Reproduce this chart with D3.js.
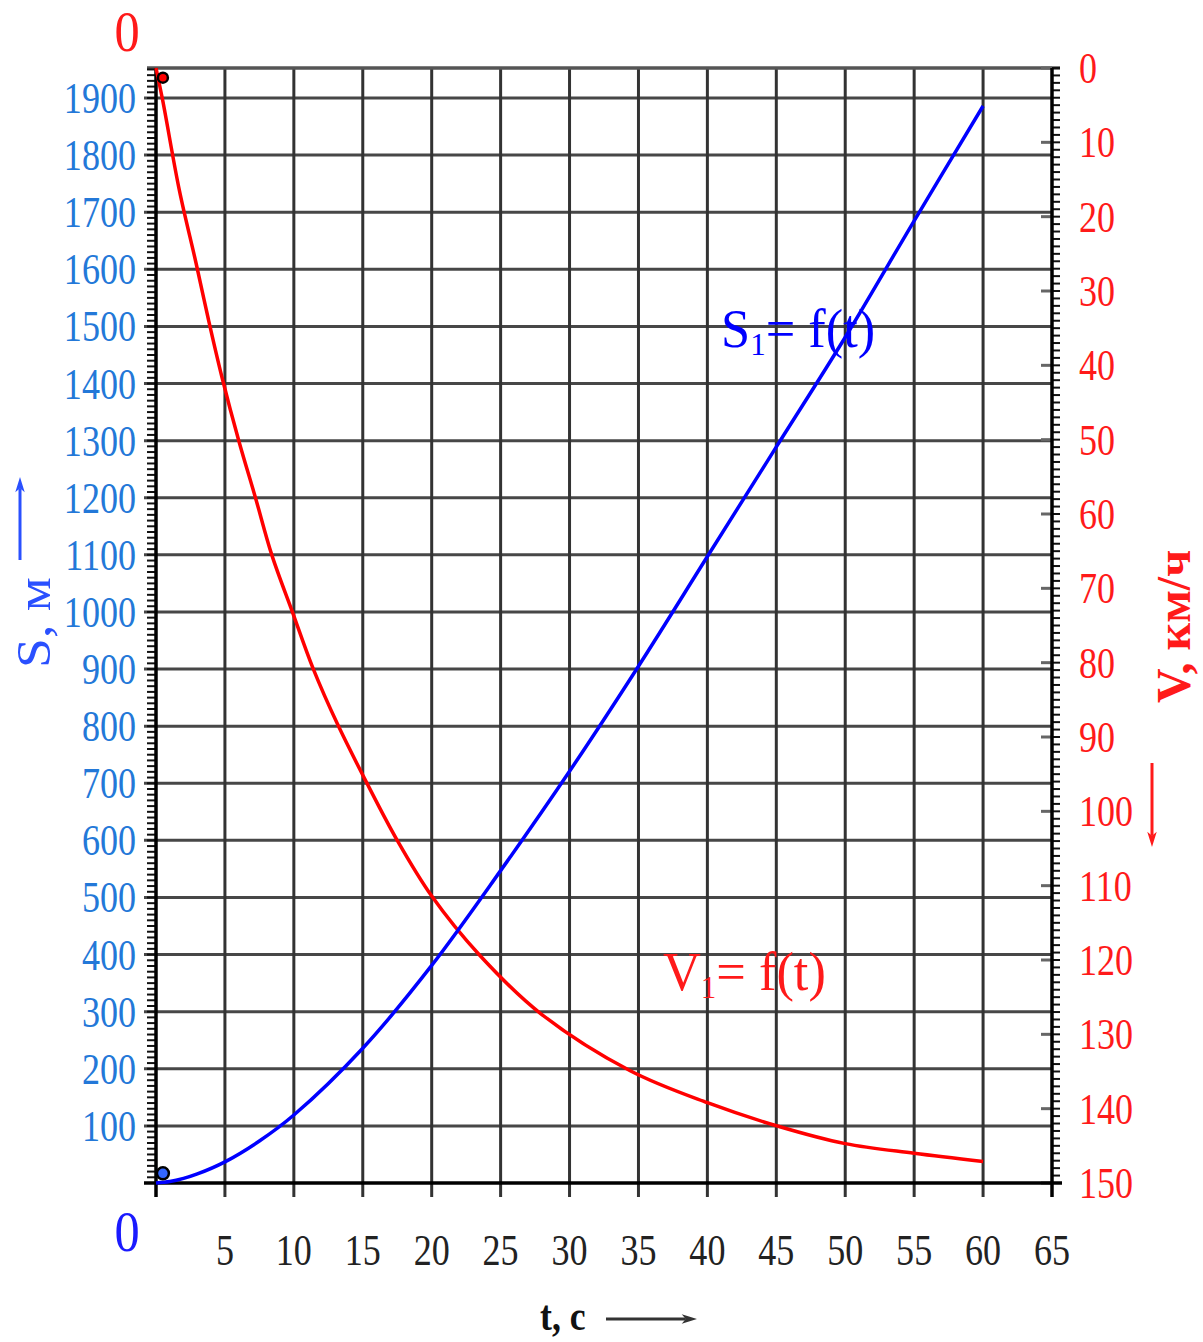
<!DOCTYPE html>
<html>
<head>
<meta charset="utf-8">
<script src="https://cdn.jsdelivr.net/npm/d3@7"></script>
<style>
  body { margin: 0; background: #fff; }
  text { font-family: "Liberation Serif", "DejaVu Serif", serif; }
</style>
</head>
<body>
<div id="chart"></div>
<script>
// tick labels
const tTicks = [5, 10, 15, 20, 25, 30, 35, 40, 45, 50, 55, 60, 65];
const sTicks = [100, 200, 300, 400, 500, 600, 700, 800, 900, 1000, 1100, 1200, 1300, 1400, 1500, 1600, 1700, 1800, 1900];
const vTicks = [0, 10, 20, 30, 40, 50, 60, 70, 80, 90, 100, 110, 120, 130, 140, 150];

// S1 = f(t), distance in m
const sTime = [0, 1, 2, 3, 5, 7.5, 10, 15, 20, 25, 30, 35, 40, 45, 50, 55, 60];
const sDist = [0, 2.5, 8, 15.8, 37, 73.5, 119, 236, 381, 547, 721, 905, 1097, 1289, 1481, 1685, 1886];

// V1 = f(t), speed in km/h
const vTime = [0, 0.5, 1.7, 2.9, 3.8, 4.8, 6.0, 7.2, 8.4, 9.9, 11.4, 13.2, 15.3, 17.5, 20, 23.5, 27.9, 34.4, 40, 45.2, 50, 55, 60];
const vSpeed = [0, 4.5, 16.5, 26.2, 33.8, 41.7, 50.1, 57.7, 65.5, 73.2, 80.8, 88.4, 96.2, 103.9, 111.4, 119.4, 127.2, 134.9, 139.2, 142.4, 144.7, 146, 147.1];

// start markers
const markV = { t: 0.5, v: 1.3 };
const markS = { t: 0.5, s: 17 };

const W = 1203, H = 1342;
const svg = d3.select('#chart').append('svg')
    .attr('width', W).attr('height', H);

const x = d3.scaleLinear().domain([0, 65]).range([156, 1052]);
const yS = d3.scaleLinear().domain([0, 1900]).range([1183, 98]);
const yV = d3.scaleLinear().domain([0, 150]).range([68, 1183]);

const blueLbl = '#2378d8';
const red = '#ff1a1a';

// text helper: squeezed serif like the scanned figure
function label(str, px, py, opt) {
    opt = opt || {};
    return svg.append('text')
        .attr('transform', `translate(${px},${py}) rotate(${opt.rot || 0}) scale(${opt.sx || 0.82},1)`)
        .attr('text-anchor', opt.anchor || 'start')
        .style('font-size', (opt.size || 44) + 'px')
        .style('font-weight', opt.bold ? 'bold' : 'normal')
        .attr('fill', opt.fill || '#222')
        .text(str);
}

// horizontal grid lines (per 100 m)
svg.append('g').selectAll('line').data(sTicks).enter().append('line')
    .attr('x1', 144).attr('x2', x(65))
    .attr('y1', d => yS(d)).attr('y2', d => yS(d))
    .attr('stroke', '#474747').attr('stroke-width', 3);

// vertical grid lines (per 5 s)
svg.append('g').selectAll('line').data(tTicks.filter(d => d < 65)).enter().append('line')
    .attr('x1', d => x(d)).attr('x2', d => x(d))
    .attr('y1', yV(0)).attr('y2', 1197)
    .attr('stroke', '#333').attr('stroke-width', 3);

// top border
svg.append('line').attr('x1', 147).attr('x2', 1060)
    .attr('y1', yV(0)).attr('y2', yV(0))
    .attr('stroke', '#555').attr('stroke-width', 3.5);

// left minor ticks every 10 m
svg.append('g').selectAll('line').data(d3.range(0, 1951, 10)).enter().append('line')
    .attr('x1', 147).attr('x2', x(0))
    .attr('y1', d => yS(d)).attr('y2', d => yS(d))
    .attr('stroke', '#111').attr('stroke-width', 2);

// right minor ticks every 1 km/h
svg.append('g').selectAll('line').data(d3.range(0, 151, 1)).enter().append('line')
    .attr('x1', x(65)).attr('x2', 1060)
    .attr('y1', d => yV(d)).attr('y2', d => yV(d))
    .attr('stroke', '#111').attr('stroke-width', 2);

// right major ticks inward
svg.append('g').selectAll('line').data(vTicks).enter().append('line')
    .attr('x1', 1041).attr('x2', x(65))
    .attr('y1', d => yV(d)).attr('y2', d => yV(d))
    .attr('stroke', '#666').attr('stroke-width', 3);

// axes lines
svg.append('line').attr('x1', x(0)).attr('x2', x(0)).attr('y1', yV(0)).attr('y2', 1197)
    .attr('stroke', '#000').attr('stroke-width', 3.5);
svg.append('line').attr('x1', x(65)).attr('x2', x(65)).attr('y1', yV(0)).attr('y2', 1197)
    .attr('stroke', '#000').attr('stroke-width', 3.5);
svg.append('line').attr('x1', 144).attr('x2', 1062).attr('y1', yS(0)).attr('y2', yS(0))
    .attr('stroke', '#000').attr('stroke-width', 3.5);

// curves
const lineS = d3.line().x((d, i) => x(sTime[i])).y(d => yS(d)).curve(d3.curveCatmullRom.alpha(0.5));
const lineV = d3.line().x((d, i) => x(vTime[i])).y(d => yV(d)).curve(d3.curveCatmullRom.alpha(0.5));

svg.append('path').attr('d', lineV(vSpeed))
    .attr('fill', 'none').attr('stroke', '#ff0000').attr('stroke-width', 3.5);
svg.append('path').attr('d', lineS(sDist))
    .attr('fill', 'none').attr('stroke', '#0000ff').attr('stroke-width', 3.5);

// markers
svg.append('circle').attr('cx', x(markV.t)).attr('cy', yV(markV.v)).attr('r', 5)
    .attr('fill', '#ff0000').attr('stroke', '#000').attr('stroke-width', 2.5);
svg.append('circle').attr('cx', x(markS.t)).attr('cy', yS(markS.s)).attr('r', 6)
    .attr('fill', '#3366ff').attr('stroke', '#000').attr('stroke-width', 2.5);

// tick labels
sTicks.forEach(d => label(d, 136, yS(d) + 15, { anchor: 'end', fill: blueLbl }));
vTicks.forEach(d => label(d, 1079, yV(d) + 15, { fill: red }));
tTicks.forEach(d => label(d, x(d), 1265, { anchor: 'middle', fill: '#222' }));

// zero labels
label('0', 127, 1251, { anchor: 'middle', fill: '#1a1aff', size: 56, sx: 0.9 });
label('0', 127, 51, { anchor: 'middle', fill: red, size: 56, sx: 0.9 });

// arrows with filled heads
function arrow(x1, y1, x2, y2, color, w) {
    const a = Math.atan2(y2 - y1, x2 - x1);
    const L = 16, s = 0.3;
    svg.append('line').attr('x1', x1).attr('y1', y1)
        .attr('x2', x2 - L * 0.7 * Math.cos(a)).attr('y2', y2 - L * 0.7 * Math.sin(a))
        .attr('stroke', color).attr('stroke-width', w);
    svg.append('path')
        .attr('d', `M${x2},${y2} L${x2 - L * Math.cos(a - s)},${y2 - L * Math.sin(a - s)} L${x2 - L * 0.7 * Math.cos(a)},${y2 - L * 0.7 * Math.sin(a)} L${x2 - L * Math.cos(a + s)},${y2 - L * Math.sin(a + s)} Z`)
        .attr('fill', color);
}

// axis titles
label('S, м', 50, 668, { rot: -90, sx: 1.12, size: 48, fill: '#2a50ff' });
arrow(20, 560, 20, 477, '#2a50ff', 3);

label('V, км/ч', 1190, 703, { rot: -90, sx: 1.0, size: 48, fill: red, bold: true });
arrow(1152, 763, 1152, 847, red, 3);

label('t, с', 540, 1330, { size: 42, sx: 0.85, bold: true, fill: '#111' });
arrow(606, 1319, 697, 1319, '#333', 3);

// curve labels
function curveLabel(main, px, py, color) {
    const t = svg.append('text')
        .attr('transform', `translate(${px},${py}) scale(0.97,1)`)
        .style('font-size', '54px').attr('fill', color);
    t.append('tspan').text(main);
    t.append('tspan').text('1').style('font-size', '32px').attr('dy', 8);
    t.append('tspan').text('= f(t)').attr('dy', -8);
}
curveLabel('S', 721, 347, '#0000ff');
curveLabel('V', 663, 990, red);
</script>
</body>
</html>
